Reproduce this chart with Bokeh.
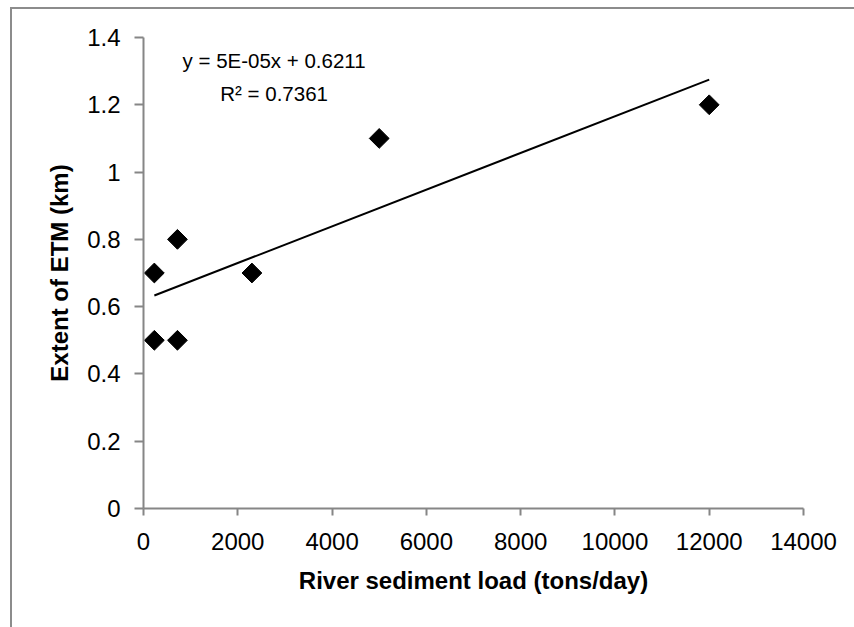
import numpy as np
from bokeh.plotting import figure
from bokeh.models import Range1d, FixedTicker, Label, InlineStyleSheet
from bokeh.embed import file_html
from bokeh.resources import INLINE

# Data
sediment_load = [230, 720, 230, 720, 2300, 5000, 12000]
etm_extent = [0.7, 0.8, 0.5, 0.5, 0.7, 1.1, 1.2]

x_ticks = [0, 2000, 4000, 6000, 8000, 10000, 12000, 14000]
y_ticks = [0, 0.2, 0.4, 0.6, 0.8, 1.0, 1.2, 1.4]
y_tick_labels = ["0", "0.2", "0.4", "0.6", "0.8", "1", "1.2", "1.4"]

equation_text = "y = 5E-05x + 0.6211"
r2_text = "R² = 0.7361"
x_title = "River sediment load (tons/day)"
y_title = "Extent of ETM (km)"
panel_label = "(d)"

FONT = "Liberation Sans"
AXIS_GREY = "#868686"

border_css = InlineStyleSheet(css="""
:host::after {
  content: "";
  position: absolute;
  left: 10px;
  top: 7px;
  width: 900px;
  height: 700px;
  border-left: 2px solid #8c8c8c;
  border-top: 2px solid #8c8c8c;
  pointer-events: none;
}
""")

p = figure(width=854, height=627, output_backend="svg", toolbar_location=None,
           x_range=Range1d(0, 14000), y_range=Range1d(0, 1.4),
           min_border_left=143, min_border_right=51, min_border_top=37, min_border_bottom=119,
           stylesheets=[border_css])
p.grid.visible = False
p.outline_line_color = None
p.background_fill_color = "white"
p.border_fill_color = "white"

for ax in (p.xaxis[0], p.yaxis[0]):
    ax.axis_line_color = AXIS_GREY
    ax.axis_line_width = 2
    ax.major_tick_line_color = AXIS_GREY
    ax.major_tick_line_width = 2
    ax.major_tick_in = 0
    ax.minor_tick_line_color = None
    ax.major_label_text_font = FONT
    ax.major_label_text_font_size = "24px"
    ax.major_label_text_color = "black"
    ax.axis_label_text_font = FONT
    ax.axis_label_text_font_size = "24px"
    ax.axis_label_text_font_style = "bold"
    ax.axis_label_text_color = "black"

p.xaxis[0].ticker = FixedTicker(ticks=x_ticks)
p.xaxis[0].major_label_overrides = {t: str(t) for t in x_ticks}
p.xaxis[0].major_tick_out = 7
p.xaxis[0].major_label_standoff = 17
p.xaxis[0].axis_label = x_title
p.xaxis[0].axis_label_standoff = 14

p.yaxis[0].ticker = FixedTicker(ticks=y_ticks)
p.yaxis[0].major_label_overrides = dict(zip(y_ticks, y_tick_labels))
p.yaxis[0].major_tick_out = 9
p.yaxis[0].major_label_standoff = 14
p.yaxis[0].axis_label = y_title
p.yaxis[0].axis_label_standoff = 11

# Linear trendline computed from the data
slope, intercept = np.polyfit(sediment_load, etm_extent, 1)
xs = np.array([min(sediment_load), max(sediment_load)])
p.line(xs, slope * xs + intercept, line_color="black", line_width=2)

p.scatter(sediment_load, etm_extent, marker="square", size=14, angle=np.pi / 4,
          fill_color="black", line_color="black")

eq = Label(x=2770, y=1.332, text=equation_text, text_align="center", text_baseline="middle",
           text_font=FONT, text_font_size="20.5px", text_color="black")
r2 = Label(x=2770, y=1.234, text=r2_text, text_align="center", text_baseline="middle",
           text_font=FONT, text_font_size="20.5px", text_color="black")
p.add_layout(eq)
p.add_layout(r2)

d_label = Label(x=3, y=-1, x_units="canvas", y_units="canvas", text=panel_label,
                text_font=FONT, text_font_size="9px", text_baseline="top", text_color="black")
p.add_layout(d_label)

open("out.html", "w").write(file_html(p, INLINE))
